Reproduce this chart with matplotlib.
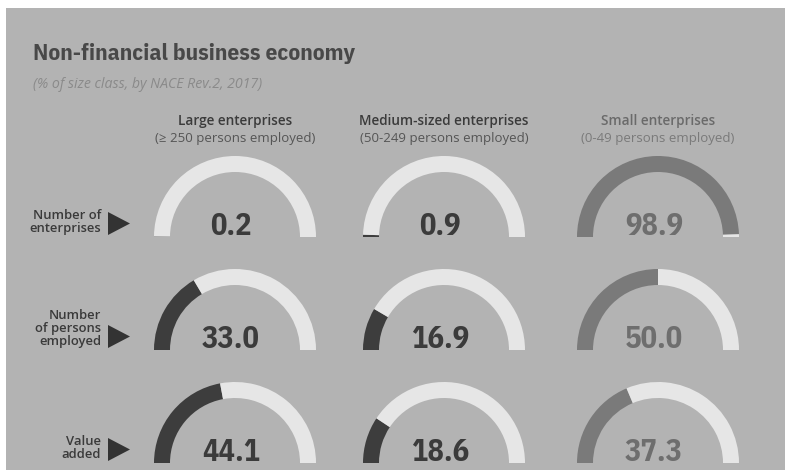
import matplotlib
matplotlib.use("Agg")
import matplotlib.pyplot as plt
from matplotlib import font_manager
from matplotlib.font_manager import FontProperties
from matplotlib.patches import Wedge, Rectangle, Polygon

# Share of each size class (%), NACE Rev.2, 2017
size_classes = ["Large enterprises", "Medium-sized enterprises", "Small enterprises"]
size_ranges = ["(\u2265 250 persons employed)", "(50-249 persons employed)", "(0-49 persons employed)"]
indicators = ["Number of\nenterprises", "Number\nof persons\nemployed", "Value\nadded"]
large = [0.2, 33.0, 44.1]
medium = [0.9, 16.9, 18.6]
small = [98.9, 50.0, 37.3]
values = [large, medium, small]

# styling
bg = "#b3b3b3"
light = "#e6e6e6"
arc_colors = ["#3d3d3d", "#3d3d3d", "#7a7a7a"]
num_colors = ["#3b3b3b", "#3b3b3b", "#6e6e6e"]
head_colors = ["#3b3b3b", "#3b3b3b", "#6a6a6a"]
sub_colors = ["#555555", "#555555", "#7a7a7a"]
fam = ["Open Sans", "DejaVu Sans"]


def condensed(size, weight=700):
    # pick the condensed Open Sans file directly, Plex Condensed otherwise
    for f in font_manager.fontManager.ttflist:
        if f.name == "Open Sans" and f.stretch == "condensed" and f.weight == weight \
                and f.style == "normal":
            return FontProperties(fname=f.fname, size=size)
    return FontProperties(family="IBM Plex Sans Condensed", weight=weight, size=size)


col_x = [235, 444, 658]
row_base = [237, 350, 463]
r_out = 81
thick = 16

fig = plt.figure(figsize=(7.85, 4.75), dpi=100)
fig.patch.set_facecolor("white")
ax = fig.add_axes([0, 0, 1, 1])
ax.set_xlim(0, 785)
ax.set_ylim(475, 0)
ax.axis("off")

# grey panel
ax.add_patch(Rectangle((6, 8), 785, 462, facecolor=bg, edgecolor="none"))

ax.text(33, 60, "Non-financial business economy", fontproperties=condensed(16.8),
        color="#484848", va="baseline")
ax.text(33, 88, "(% of size class, by NACE Rev.2, 2017)", family=fam, style="italic",
        fontsize=10.2, color="#8a8a8a", va="baseline")

for j, (name, rng) in enumerate(zip(size_classes, size_ranges)):
    ax.text(col_x[j], 125, name, family=fam, weight="semibold", fontsize=9.8,
            color=head_colors[j], ha="center", va="baseline")
    ax.text(col_x[j], 142, rng, family=fam, fontsize=9.5,
            color=sub_colors[j], ha="center", va="baseline")

for i, label in enumerate(indicators):
    yb = row_base[i]
    ax.text(101, yb - 5, label, family=fam, weight="semibold", fontsize=9.4,
            color="#3a3a3a", ha="right", va="baseline", linespacing=1.0)
    ax.add_patch(Polygon([(108, yb - 25), (108, yb - 2), (130, yb - 13.5)],
                         closed=True, facecolor="#333333", edgecolor="none"))
    for j in range(3):
        v = values[j][i]
        split = 180 + 180 * v / 100
        ax.add_patch(Wedge((col_x[j], yb), r_out, 180, split, width=thick,
                           facecolor=arc_colors[j], edgecolor="none"))
        ax.add_patch(Wedge((col_x[j], yb), r_out, split, 360, width=thick,
                           facecolor=light, edgecolor="none"))
        ax.text(col_x[j] - 4, yb - 2, f"{v:.1f}", fontproperties=condensed(22),
                color=num_colors[j], ha="center", va="baseline")

fig.savefig("out.png", dpi=100, facecolor=fig.get_facecolor())
